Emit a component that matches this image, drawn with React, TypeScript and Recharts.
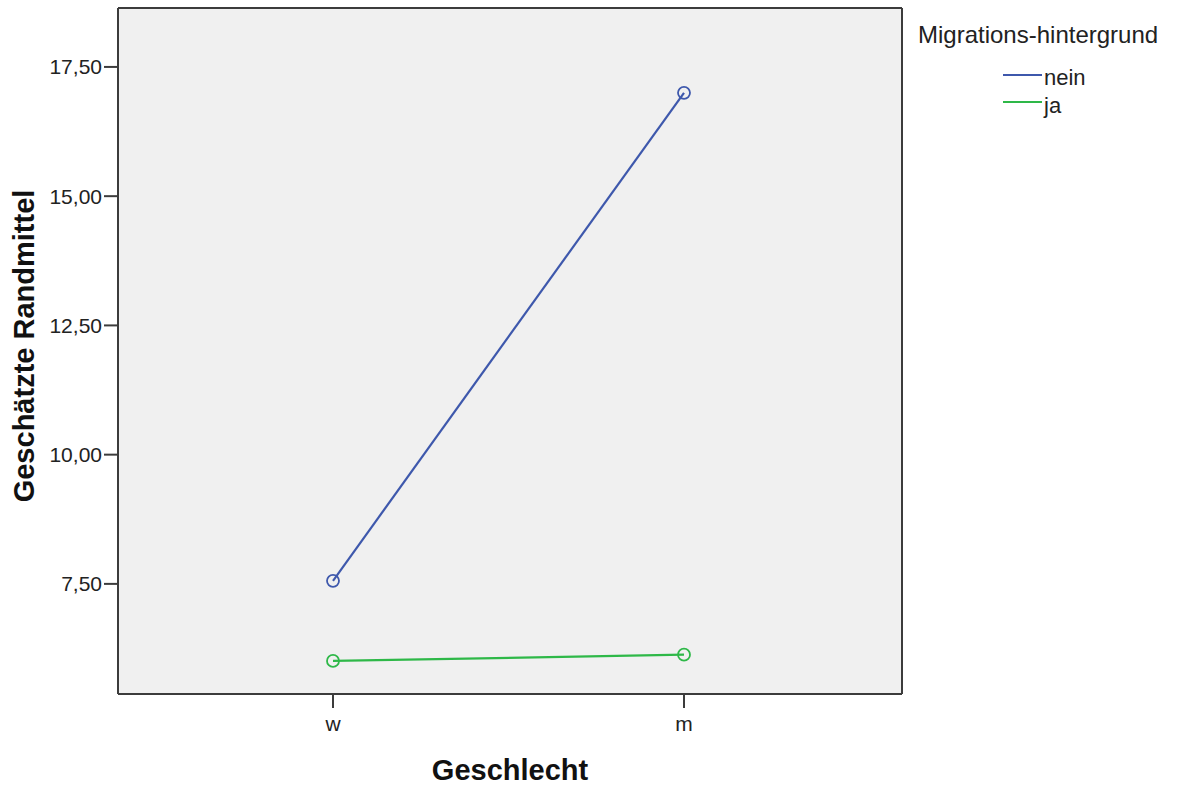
import React from 'react';
import { LineChart, Line, XAxis, YAxis, CartesianGrid, Legend } from 'recharts';

const categories = ['w', 'm'];
const neinValues = [7.56, 17.0];
const jaValues = [6.01, 6.13];
const yTicks = [7.5, 10, 12.5, 15, 17.5];
const yDomain: [number, number] = [5.37, 18.64];
const seriesOrder = ['nein', 'ja'];
const legendTitle = 'Migrations-hintergrund';
const xTitle = 'Geschlecht';
const yTitle = 'Geschätzte Randmittel';

const data = categories.map((g, i) => ({ g, nein: neinValues[i], ja: jaValues[i] }));

const FONT = '"Liberation Sans", Arial, sans-serif';
const BLUE = '#3E58AC';
const GREEN = '#2EB848';
const FRAME = '#3c3c3c';

const fmt = (v: number) => v.toFixed(2).replace('.', ',');

const LegendContent = (props: any) => {
  const payload = [...(props.payload || [])].sort(
    (a: any, b: any) => seriesOrder.indexOf(a.dataKey) - seriesOrder.indexOf(b.dataKey)
  );
  return (
    <div style={{ width: 0, height: 0, overflow: 'visible', position: 'relative' }}>
      <svg width={1186} height={130} style={{ position: 'absolute', left: 0, top: 0, overflow: 'visible' }}>
        <text x={918} y={43} fontFamily={FONT} fontSize={24} fill="#222">{legendTitle}</text>
        {payload.map((p: any, i: number) => (
          <g key={p.value}>
            <line x1={1003} x2={1042} y1={75 + i * 27} y2={75 + i * 27} stroke={p.color} strokeWidth={2} />
            <text x={1044} y={85 + i * 28} fontFamily={FONT} fontSize={22} fill="#222">{p.value}</text>
          </g>
        ))}
      </svg>
    </div>
  );
};

const YLabel = (props: any) => {
  const vb = props.viewBox || { x: 0, y: 8, width: 118, height: 686 };
  const cx = vb.x + 34;
  const cy = vb.y + vb.height / 2 - 5;
  return (
    <text x={cx} y={cy} transform={`rotate(-90, ${cx}, ${cy})`} textAnchor="middle" fontFamily={FONT} fontSize={29} fontWeight="bold" fill="#111">
      {yTitle}
    </text>
  );
};

const XLabel = (props: any) => {
  const vb = props.viewBox || { x: 118, y: 694, width: 784, height: 97 };
  return (
    <text x={vb.x + vb.width / 2} y={vb.y + 86} textAnchor="middle" fontFamily={FONT} fontSize={29} fontWeight="bold" fill="#111">
      {xTitle}
    </text>
  );
};

const frameH = (args: any) => {
  const o = args.offset;
  return [o.top, o.top + o.height];
};
const frameV = (args: any) => {
  const o = args.offset;
  return [o.left, o.left + o.width];
};

export default function App() {
  return (
    <div>
      <style>{`body{margin:0;}`}</style>
      <LineChart width={1186} height={791} data={data} margin={{ top: 8, right: 284, bottom: 0, left: 0 }}>
        <CartesianGrid
          fill="#F0F0F0"
          stroke={FRAME}
          strokeWidth={2}
          horizontalCoordinatesGenerator={frameH}
          verticalCoordinatesGenerator={frameV}
        />
        <XAxis
          dataKey="g"
          scale="point"
          padding={{ left: 215, right: 218 }}
          height={97}
          tickSize={14}
          tickMargin={8}
          axisLine={{ stroke: FRAME, strokeWidth: 2 }}
          tickLine={{ stroke: FRAME, strokeWidth: 2 }}
          tick={{ fontFamily: FONT, fontSize: 21, fill: '#222' }}
          label={<XLabel />}
        />
        <YAxis
          type="number"
          domain={yDomain}
          ticks={yTicks}
          tickFormatter={fmt}
          width={118}
          tickSize={14}
          tickMargin={2}
          axisLine={{ stroke: FRAME, strokeWidth: 2 }}
          tickLine={{ stroke: FRAME, strokeWidth: 2 }}
          tick={{ fontFamily: FONT, fontSize: 21, fill: '#222' }}
          label={<YLabel />}
          allowDataOverflow
        />
        <Legend layout="vertical" align="center" verticalAlign="middle" wrapperStyle={{ left: 0, top: 0, width: 0, height: 0 }} content={<LegendContent />} />
        <Line type="linear" dataKey="nein" name="nein" stroke={BLUE} strokeWidth={2.2} dot={{ r: 6, fill: 'none', stroke: BLUE, strokeWidth: 1.8 }} activeDot={false} isAnimationActive={false} />
        <Line type="linear" dataKey="ja" name="ja" stroke={GREEN} strokeWidth={2.2} dot={{ r: 6, fill: 'none', stroke: GREEN, strokeWidth: 1.8 }} activeDot={false} isAnimationActive={false} />
      </LineChart>
    </div>
  );
}
